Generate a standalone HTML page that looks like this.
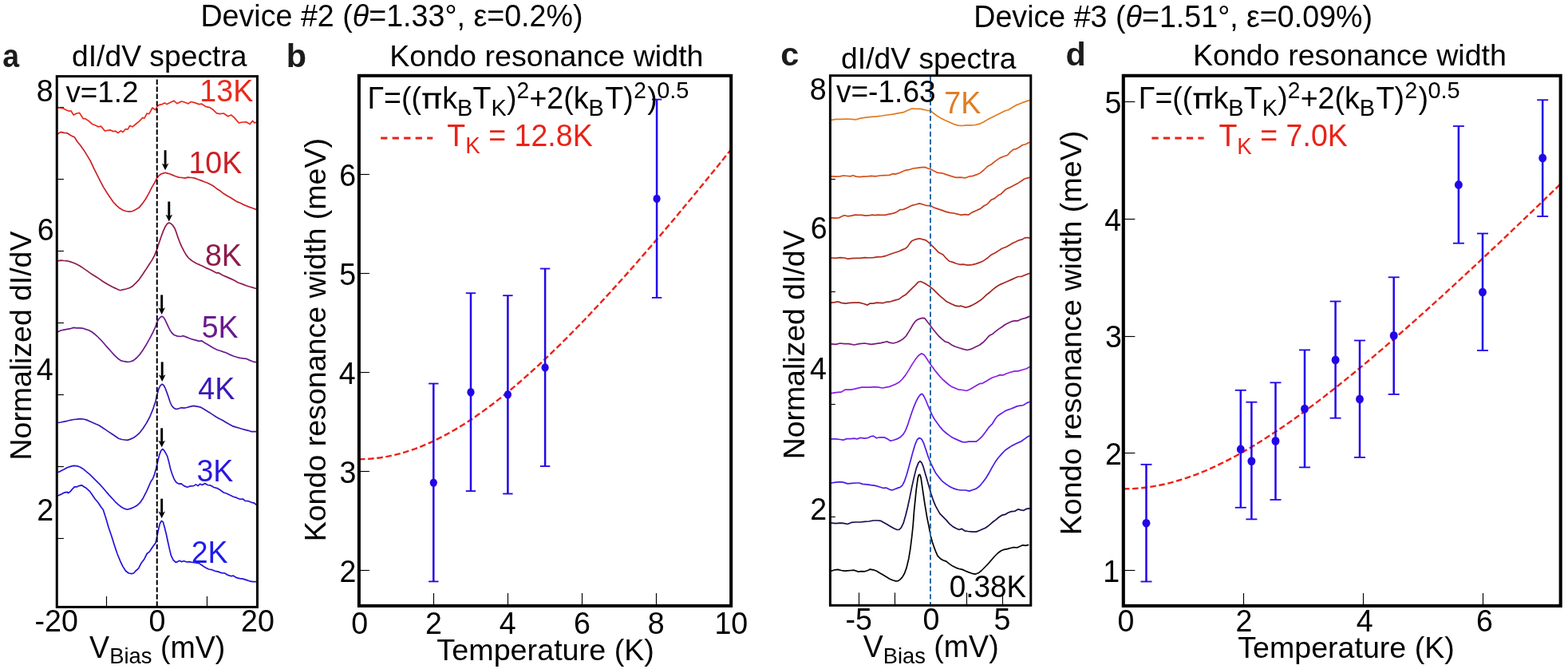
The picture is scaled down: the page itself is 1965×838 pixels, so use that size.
<!DOCTYPE html>
<html lang="en">
<head>
<meta charset="utf-8">
<title>Kondo resonance width: Device #2 and Device #3</title>
<style>
html,body{margin:0;padding:0;background:#fff;}
body{width:1965px;height:838px;overflow:hidden;}
svg{display:block;font-family:'Liberation Sans', Arial, Helvetica, sans-serif;}
svg text{white-space:pre;}
</style>
</head>
<body>
<svg width="1965" height="838" viewBox="0 0 1965 838">
<rect x="0" y="0" width="1965" height="838" fill="#fff"/>
<g id="ticks"><line x1="133.50" y1="760.40" x2="133.50" y2="747.00" stroke="#000" stroke-width="1.15"/>
<line x1="259.50" y1="760.40" x2="259.50" y2="747.00" stroke="#000" stroke-width="1.15"/>
<line x1="71.25" y1="134.50" x2="79.90" y2="134.50" stroke="#000" stroke-width="1.15"/>
<line x1="71.25" y1="224.50" x2="79.90" y2="224.50" stroke="#000" stroke-width="1.15"/>
<line x1="71.25" y1="314.50" x2="79.90" y2="314.50" stroke="#000" stroke-width="1.15"/>
<line x1="71.25" y1="404.50" x2="79.90" y2="404.50" stroke="#000" stroke-width="1.15"/>
<line x1="71.25" y1="494.50" x2="79.90" y2="494.50" stroke="#000" stroke-width="1.15"/>
<line x1="71.25" y1="584.50" x2="79.90" y2="584.50" stroke="#000" stroke-width="1.15"/>
<line x1="71.25" y1="674.50" x2="79.90" y2="674.50" stroke="#000" stroke-width="1.15"/>
<line x1="543.50" y1="758.90" x2="543.50" y2="743.00" stroke="#000" stroke-width="1.15"/>
<line x1="636.50" y1="758.90" x2="636.50" y2="743.00" stroke="#000" stroke-width="1.15"/>
<line x1="729.50" y1="758.90" x2="729.50" y2="743.00" stroke="#000" stroke-width="1.15"/>
<line x1="822.50" y1="758.90" x2="822.50" y2="743.00" stroke="#000" stroke-width="1.15"/>
<line x1="449.90" y1="714.50" x2="463.00" y2="714.50" stroke="#000" stroke-width="1.15"/>
<line x1="449.90" y1="590.50" x2="463.00" y2="590.50" stroke="#000" stroke-width="1.15"/>
<line x1="449.90" y1="466.50" x2="463.00" y2="466.50" stroke="#000" stroke-width="1.15"/>
<line x1="449.90" y1="342.50" x2="463.00" y2="342.50" stroke="#000" stroke-width="1.15"/>
<line x1="449.90" y1="218.50" x2="463.00" y2="218.50" stroke="#000" stroke-width="1.15"/>
<line x1="1076.50" y1="758.30" x2="1076.50" y2="742.40" stroke="#000" stroke-width="1.15"/>
<line x1="1121.50" y1="758.30" x2="1121.50" y2="742.40" stroke="#000" stroke-width="1.15"/>
<line x1="1211.50" y1="758.30" x2="1211.50" y2="742.40" stroke="#000" stroke-width="1.15"/>
<line x1="1256.50" y1="758.30" x2="1256.50" y2="742.40" stroke="#000" stroke-width="1.15"/>
<line x1="1040.40" y1="224.50" x2="1046.80" y2="224.50" stroke="#000" stroke-width="1.15"/>
<line x1="1040.40" y1="365.50" x2="1046.80" y2="365.50" stroke="#000" stroke-width="1.15"/>
<line x1="1040.40" y1="506.50" x2="1046.80" y2="506.50" stroke="#000" stroke-width="1.15"/>
<line x1="1040.40" y1="647.50" x2="1046.80" y2="647.50" stroke="#000" stroke-width="1.15"/>
<line x1="1558.50" y1="758.90" x2="1558.50" y2="743.00" stroke="#000" stroke-width="1.15"/>
<line x1="1708.50" y1="758.90" x2="1708.50" y2="743.00" stroke="#000" stroke-width="1.15"/>
<line x1="1858.50" y1="758.90" x2="1858.50" y2="743.00" stroke="#000" stroke-width="1.15"/>
<line x1="1407.80" y1="714.50" x2="1422.40" y2="714.50" stroke="#000" stroke-width="1.15"/>
<line x1="1407.80" y1="567.50" x2="1422.40" y2="567.50" stroke="#000" stroke-width="1.15"/>
<line x1="1407.80" y1="421.50" x2="1422.40" y2="421.50" stroke="#000" stroke-width="1.15"/>
<line x1="1407.80" y1="274.50" x2="1422.40" y2="274.50" stroke="#000" stroke-width="1.15"/>
<line x1="1407.80" y1="127.50" x2="1422.40" y2="127.50" stroke="#000" stroke-width="1.15"/></g>
<g id="curves" fill="none" stroke-linejoin="round" stroke-linecap="round"><polyline points="72.3,135.0 78.8,135.6 82.8,137.7 86.8,139.3 88.9,138.7 92.2,144.0 96.2,142.0 99.6,141.4 104.3,148.7 107.0,148.7 111.0,151.4 115.7,155.5 119.1,156.8 123.1,158.8 126.5,158.1 131.2,163.8 135.2,163.3 137.9,162.8 141.9,164.6 144.6,164.2 148.0,166.5 151.3,163.8 154.0,165.5 157.4,161.5 160.1,162.2 162.7,157.5 166.1,158.8 170.1,155.5 174.2,152.1 178.9,147.4 180.9,148.1 184.2,142.0 186.9,142.7 191.0,135.0 195.0,137.7 197.0,133.3 199.7,131.3 203.1,130.6 206.4,128.9 209.1,130.6 213.1,128.6 217.8,126.2 221.9,129.7 225.2,127.9 227.9,127.0 231.9,128.3 236.0,129.9 239.3,127.5 244.0,128.6 249.4,130.6 252.8,130.2 257.5,133.3 262.8,134.6 266.9,137.3 271.6,141.8 275.6,142.7 280.3,142.0 285.7,145.8 289.7,144.0 293.7,147.4 299.1,153.8 304.5,153.0 308.5,152.8 313.2,155.5 316.6,151.4 318.6,153.8 320.9,153.4" stroke="#ea2a1c" stroke-width="1.7"/>
<polyline points="72.3,167.8 76.1,165.4 80.1,166.4 84.2,166.7 88.9,169.7 93.6,172.1 96.9,177.5 100.9,182.2 105.6,188.9 109.7,195.6 113.7,202.3 117.7,211.1 121.8,219.1 125.8,227.2 129.8,234.6 133.9,241.3 137.9,247.3 141.9,253.0 146.0,257.4 150.0,260.8 154.0,263.2 158.0,264.5 162.1,265.1 166.1,264.5 170.1,262.4 174.2,260.1 178.2,255.4 182.2,249.7 186.3,242.6 190.3,234.6 193.6,229.2 196.3,223.8 199.0,220.2 201.7,218.0 204.4,217.1 207.1,216.2 209.8,217.1 212.5,217.8 215.8,219.1 219.8,220.7 223.9,222.1 227.9,222.5 231.9,223.1 235.3,222.1 240.0,222.5 244.0,223.1 248.1,224.8 252.1,226.1 256.1,227.8 260.2,229.2 264.2,231.2 268.2,233.6 272.2,236.8 276.3,239.3 280.3,242.6 284.3,244.9 288.4,247.3 292.4,249.7 296.4,252.4 300.5,254.0 304.5,256.1 308.5,257.8 312.5,259.4 316.6,260.8 320.9,262.4" stroke="#cc1f26" stroke-width="1.7"/>
<polyline points="72.3,326.8 76.1,326.1 80.1,326.5 84.2,326.8 88.2,327.9 92.2,329.2 96.2,331.1 100.3,333.3 104.3,335.9 108.3,338.6 112.4,341.6 116.4,344.3 120.4,346.7 124.5,349.4 128.5,352.3 132.5,354.7 136.5,357.0 140.6,359.3 144.6,361.1 148.0,362.8 150.7,363.7 154.0,362.8 158.0,362.0 162.1,360.7 166.1,358.4 170.1,354.7 174.2,350.3 178.2,344.5 182.2,338.6 186.3,332.2 190.3,326.1 193.6,320.1 196.3,313.4 199.0,305.3 201.7,297.2 204.4,289.9 207.1,283.8 209.8,280.0 211.8,279.1 213.8,279.8 216.5,282.2 219.2,286.5 221.2,291.9 223.2,297.9 225.2,303.3 227.9,309.3 230.6,314.7 233.3,319.4 236.0,322.8 238.7,325.2 242.7,328.1 246.7,330.2 250.7,331.9 254.8,333.8 258.8,335.9 262.8,337.5 266.9,339.6 270.9,341.8 273.6,341.6 277.6,344.0 281.6,345.9 285.7,347.6 289.7,349.4 293.7,351.3 297.8,353.7 300.5,354.7 304.5,356.1 308.5,357.7 312.5,359.0 316.6,360.1 320.9,361.5" stroke="#8e1a4e" stroke-width="1.7"/>
<polyline points="72.3,415.8 76.1,414.0 80.1,413.1 84.2,412.4 88.2,411.7 92.2,410.4 96.2,410.8 100.3,410.8 104.3,411.3 107.0,412.4 111.0,413.5 115.1,415.8 119.1,418.8 123.1,422.5 127.1,426.5 131.2,431.2 135.2,435.9 139.2,440.3 143.3,444.9 147.3,448.7 151.3,451.6 155.4,452.7 159.4,453.4 163.4,453.0 167.5,451.4 171.5,448.0 175.5,443.6 179.5,437.9 183.6,431.2 187.6,424.2 191.6,416.4 195.0,409.0 197.0,403.0 199.0,399.6 201.0,397.3 203.1,396.3 205.1,397.6 207.1,401.0 209.1,405.4 211.1,409.7 213.1,413.7 215.8,417.5 218.5,419.8 222.5,421.1 226.6,421.5 229.9,420.7 233.3,422.1 237.3,423.8 241.3,425.2 245.4,426.1 249.4,427.4 252.8,426.9 256.1,429.2 260.2,431.5 264.2,433.9 268.2,436.3 272.2,438.2 276.3,439.5 280.3,440.9 284.3,442.2 288.4,444.4 292.4,446.0 296.4,447.3 300.5,448.4 304.5,448.9 308.5,449.3 312.5,451.1 316.6,452.7 319.3,453.6 320.9,453.4" stroke="#6a1a8e" stroke-width="1.7"/>
<polyline points="72.3,529.5 76.1,529.0 80.1,528.2 84.2,527.3 88.2,526.3 92.2,525.5 96.2,525.2 100.3,524.6 104.3,525.0 108.3,525.9 112.4,527.7 116.4,529.5 120.4,531.3 124.5,533.0 128.5,535.7 132.5,538.4 136.5,541.1 140.6,543.8 144.6,546.5 148.6,549.2 152.7,550.5 156.7,551.0 159.4,551.4 163.4,550.1 167.5,548.3 171.5,545.4 175.5,541.6 179.5,536.3 183.6,529.9 187.6,522.5 191.6,512.9 195.0,502.4 197.0,493.7 199.0,486.9 201.0,482.9 203.1,481.3 205.1,482.5 207.1,486.3 209.1,491.6 211.1,497.3 213.1,503.5 215.1,508.0 217.8,511.1 220.5,512.5 223.9,511.8 227.2,510.7 230.6,511.1 234.0,510.5 238.0,509.4 242.7,508.4 246.7,509.1 250.7,509.8 254.8,512.1 258.8,514.5 262.8,516.9 266.9,519.6 270.9,522.3 274.9,524.6 279.0,526.6 283.0,529.0 287.0,531.3 291.1,533.6 295.1,534.9 299.1,536.0 303.1,537.3 307.2,538.4 311.2,539.3 315.2,540.7 320.9,540.7" stroke="#3a16b4" stroke-width="1.7"/>
<polyline points="72.3,591.7 76.1,590.1 80.1,588.1 84.2,585.8 88.2,584.4 92.2,583.4 96.2,583.6 100.3,585.0 104.3,587.4 108.3,590.8 112.4,594.1 116.4,598.1 120.4,602.2 124.5,606.2 128.5,610.5 132.5,615.3 136.5,619.9 140.6,624.3 144.6,628.8 148.6,632.4 152.7,635.5 156.7,637.4 159.4,638.2 163.4,637.1 167.5,635.5 171.5,633.3 175.5,629.7 179.5,623.7 183.6,615.6 186.3,609.6 188.9,603.5 191.6,599.5 193.6,594.1 195.7,586.7 197.7,578.0 199.7,569.9 201.7,564.6 203.7,562.5 205.7,564.3 207.8,567.9 209.8,571.9 211.8,579.3 213.8,588.1 215.8,594.1 218.5,600.8 221.2,604.6 224.5,606.2 227.2,605.9 230.6,608.6 234.6,610.2 238.7,608.9 242.7,608.6 245.4,606.9 248.1,608.6 250.7,606.2 253.4,607.5 256.8,605.5 260.2,607.5 264.2,608.2 268.2,610.5 272.2,611.6 276.3,614.0 280.3,617.0 284.3,618.3 288.4,620.3 292.4,622.3 296.4,623.4 300.5,625.3 304.5,625.0 307.2,627.4 311.2,627.7 315.2,629.3 318.6,630.1 320.9,632.0" stroke="#2a14d6" stroke-width="1.7"/>
<polyline points="72.3,621.0 76.1,619.4 80.1,617.2 84.2,616.3 85.5,617.6 88.2,615.6 90.9,612.3 93.6,609.6 96.2,610.0 98.9,608.6 102.3,607.8 105.6,610.0 108.3,611.6 112.4,615.3 116.4,621.0 119.1,625.0 123.1,629.7 127.1,635.7 129.2,638.3 132.7,649.0 136.1,660.7 139.8,671.5 143.4,683.0 147.0,693.8 150.7,702.8 154.1,709.9 157.6,715.3 161.3,718.0 164.9,718.6 167.5,718.0 170.1,715.0 173.5,712.1 176.9,705.6 180.9,700.2 184.2,693.5 187.6,690.8 191.0,685.5 195.0,680.1 196.3,674.7 198.4,664.0 200.4,655.9 202.4,652.5 204.4,653.9 206.4,661.3 208.4,669.3 210.4,678.7 212.5,688.1 214.5,696.2 217.2,701.6 220.5,704.5 222.5,703.6 225.2,702.3 227.2,703.6 230.6,702.7 234.0,704.0 237.3,703.6 241.3,704.5 245.4,704.9 249.4,705.6 253.4,708.3 257.5,711.0 261.5,713.0 265.5,713.7 269.6,715.3 273.6,716.1 277.6,717.7 281.6,718.0 285.7,720.4 289.7,721.7 292.4,721.1 296.4,723.7 300.5,724.7 304.5,725.1 308.5,726.4 312.5,727.8 316.6,728.7 320.9,728.7" stroke="#2212dc" stroke-width="1.7"/>
<polyline points="1041.8,150.4 1047.4,149.4 1054.2,149.4 1060.9,149.0 1067.6,149.4 1073.0,149.8 1078.3,148.1 1085.1,147.1 1091.8,146.3 1098.5,145.8 1105.2,145.0 1111.9,144.0 1118.6,143.1 1125.4,141.8 1132.1,140.7 1137.5,138.3 1142.8,136.0 1148.2,136.4 1153.6,136.4 1157.6,137.3 1161.6,138.3 1166.3,138.7 1169.7,141.8 1173.7,144.7 1179.1,148.1 1184.5,150.8 1189.8,153.0 1195.2,155.5 1200.6,157.1 1206.0,157.5 1211.3,156.8 1216.7,156.8 1222.1,156.5 1227.5,155.2 1232.8,152.8 1238.2,149.4 1243.6,146.7 1249.0,144.0 1254.3,141.4 1259.7,138.7 1263.7,137.7 1267.8,135.0 1273.1,131.9 1278.5,129.7 1283.9,127.6 1289.9,125.6" stroke="#e07a1f" stroke-width="1.7"/>
<polyline points="1041.8,220.8 1047.4,221.1 1052.8,220.8 1056.8,220.0 1062.2,220.5 1066.2,220.8 1068.9,219.7 1073.0,221.1 1077.0,221.7 1082.4,221.1 1087.7,220.8 1091.8,220.4 1097.1,220.8 1102.5,220.0 1107.9,219.7 1114.6,219.4 1118.6,217.7 1121.3,218.1 1126.7,216.8 1130.7,215.0 1134.8,213.3 1138.8,212.7 1144.2,211.0 1149.5,210.3 1154.9,209.6 1158.9,209.4 1163.0,211.0 1166.3,211.9 1169.7,213.7 1175.1,216.4 1180.4,216.8 1185.8,218.6 1191.2,220.4 1197.9,222.4 1203.3,222.1 1210.0,222.8 1215.4,220.8 1219.4,220.4 1224.8,218.4 1228.8,216.4 1232.8,213.0 1238.2,207.9 1242.2,206.0 1247.6,201.6 1253.0,197.9 1258.4,195.8 1262.4,194.5 1266.4,190.2 1270.5,186.8 1273.1,186.8 1277.2,184.5 1281.2,181.8 1285.2,180.7 1289.9,178.3" stroke="#d4501c" stroke-width="1.7"/>
<polyline points="1041.8,272.8 1046.1,273.2 1051.5,272.8 1055.5,270.8 1058.2,269.7 1062.2,270.8 1067.6,270.1 1071.6,269.2 1075.6,269.4 1079.7,269.4 1085.1,270.1 1090.4,269.7 1093.1,269.2 1097.1,269.7 1099.8,269.2 1103.9,269.4 1109.2,269.4 1114.6,268.1 1118.6,267.4 1122.7,266.1 1128.0,262.7 1132.1,262.4 1137.5,260.0 1142.8,257.3 1148.2,256.0 1152.2,254.9 1156.3,256.0 1160.3,257.3 1166.3,257.6 1169.7,259.7 1175.1,261.6 1180.4,263.4 1185.8,265.4 1191.2,266.7 1195.2,267.0 1200.6,268.3 1204.6,269.4 1208.7,268.7 1213.4,269.2 1218.1,266.1 1223.4,263.8 1228.8,261.4 1232.8,258.0 1236.9,256.0 1242.2,250.3 1246.3,248.6 1251.6,244.2 1254.3,243.2 1259.7,237.8 1262.4,236.1 1266.4,234.5 1271.8,231.5 1275.8,229.4 1279.9,226.7 1283.9,224.0 1289.9,222.4" stroke="#c23c1c" stroke-width="1.7"/>
<polyline points="1041.8,323.0 1047.4,323.3 1052.8,322.7 1058.2,323.0 1062.2,324.3 1067.6,323.7 1073.0,323.3 1078.3,323.3 1083.7,322.7 1089.1,323.0 1094.5,322.7 1099.8,321.9 1105.2,321.6 1110.6,320.3 1116.0,318.3 1121.3,316.5 1126.7,314.7 1130.7,312.9 1134.8,311.2 1137.5,308.9 1140.1,304.9 1142.8,301.8 1146.9,299.9 1152.2,298.8 1156.3,299.9 1160.3,300.8 1164.3,304.2 1168.4,308.2 1172.4,312.2 1176.4,316.3 1181.8,319.0 1185.8,323.7 1189.8,327.3 1193.9,328.4 1197.9,330.0 1202.6,331.3 1207.3,331.1 1212.7,332.1 1218.1,331.7 1223.4,330.4 1228.8,328.4 1232.8,326.4 1238.2,322.7 1242.2,319.2 1247.6,316.5 1251.6,313.9 1255.7,311.2 1261.1,309.3 1265.1,306.9 1269.1,304.5 1273.1,302.8 1277.2,300.8 1281.2,299.9 1283.9,298.1 1287.9,297.5 1289.9,298.1" stroke="#b02e1e" stroke-width="1.7"/>
<polyline points="1041.8,379.2 1046.1,378.7 1050.1,377.8 1054.2,379.4 1059.5,380.1 1064.9,379.4 1070.3,379.2 1077.0,379.2 1082.4,380.5 1087.1,382.1 1090.4,380.1 1094.5,380.1 1098.5,379.2 1102.5,379.4 1106.5,379.7 1110.6,378.3 1116.0,377.8 1121.3,376.1 1126.7,374.7 1130.7,371.6 1134.8,369.3 1138.8,365.3 1142.8,361.3 1146.9,357.3 1150.9,353.2 1153.6,352.5 1157.6,354.2 1161.6,356.6 1165.7,359.3 1169.7,362.6 1173.7,366.7 1177.8,370.7 1181.8,373.8 1185.8,377.4 1189.8,379.4 1193.9,381.4 1197.9,383.2 1201.9,383.7 1204.6,383.2 1210.0,385.1 1214.0,384.1 1218.1,382.4 1223.4,379.4 1228.8,376.1 1232.8,372.7 1236.9,368.7 1240.9,365.7 1244.9,362.2 1249.0,359.0 1253.0,356.6 1258.4,354.2 1262.4,352.5 1267.8,350.1 1271.8,348.3 1275.8,346.5 1279.9,346.5 1283.9,344.8 1289.9,342.5" stroke="#a02622" stroke-width="1.7"/>
<polyline points="1041.8,430.9 1047.4,431.4 1052.8,430.0 1058.2,430.7 1063.6,430.7 1070.3,432.0 1077.0,430.7 1083.7,430.0 1091.8,431.4 1098.5,430.4 1103.9,429.6 1107.9,428.7 1111.3,427.7 1114.6,429.1 1119.3,430.0 1124.0,428.7 1128.0,426.9 1132.1,424.2 1135.4,421.0 1138.8,415.6 1141.5,411.2 1144.2,406.5 1146.9,402.7 1149.5,400.5 1152.9,399.1 1156.3,398.4 1158.9,398.7 1161.6,402.2 1165.0,406.5 1168.4,411.2 1172.4,416.2 1176.4,421.0 1180.4,424.6 1184.5,428.0 1188.5,429.1 1192.5,432.0 1196.6,434.0 1201.9,435.8 1207.3,437.4 1212.0,438.5 1216.7,437.4 1222.1,434.7 1227.5,432.3 1231.5,429.3 1235.5,425.3 1239.6,420.6 1243.6,418.6 1247.6,415.2 1251.6,412.1 1255.7,409.5 1259.7,406.5 1263.7,404.5 1267.8,402.7 1271.8,401.8 1275.8,401.8 1279.9,399.8 1285.2,398.4 1289.9,396.4" stroke="#7a1a78" stroke-width="1.7"/>
<polyline points="1041.8,492.7 1046.1,491.8 1050.1,491.4 1054.2,491.1 1058.9,488.2 1062.2,488.2 1066.2,488.2 1070.3,487.4 1074.3,486.4 1079.7,485.1 1085.1,485.1 1090.4,485.1 1095.8,484.7 1101.2,485.1 1105.9,486.0 1110.6,485.1 1114.6,484.4 1118.6,482.8 1122.7,481.1 1126.7,478.8 1130.7,475.0 1134.8,469.9 1138.8,463.6 1142.8,456.9 1146.9,450.6 1150.9,445.5 1154.9,442.8 1158.3,444.8 1161.6,449.5 1165.0,454.9 1168.4,459.6 1172.4,464.9 1176.4,469.9 1180.4,474.3 1184.5,478.0 1188.5,481.5 1192.5,484.4 1196.6,486.0 1200.6,487.8 1206.0,488.5 1211.3,489.5 1215.4,487.8 1219.4,485.5 1223.4,483.1 1227.5,480.7 1231.5,480.1 1235.5,477.7 1239.6,475.3 1243.6,473.0 1249.0,471.3 1253.0,469.6 1257.0,469.9 1261.1,468.0 1266.4,466.3 1271.8,464.9 1275.8,464.9 1281.2,463.2 1286.6,461.8 1289.9,459.6" stroke="#8a20e4" stroke-width="1.7"/>
<polyline points="1041.8,549.9 1047.4,549.9 1052.8,550.5 1056.8,551.2 1060.9,549.6 1066.2,549.6 1070.3,549.2 1074.3,549.9 1078.3,548.3 1083.7,549.2 1087.7,548.5 1091.8,546.5 1094.5,546.1 1098.5,548.8 1102.5,547.8 1107.9,547.8 1111.9,549.6 1116.0,552.3 1120.0,551.2 1124.0,549.9 1128.0,547.8 1132.1,543.8 1134.8,539.1 1137.5,532.4 1140.1,524.3 1142.8,516.3 1145.5,508.9 1148.2,502.6 1150.9,497.5 1153.6,494.1 1155.6,493.4 1157.6,495.9 1160.3,501.5 1163.0,508.2 1165.7,514.3 1168.4,520.3 1171.0,525.0 1174.4,529.7 1177.8,534.4 1181.8,539.1 1185.8,542.5 1189.8,545.6 1193.9,548.3 1197.9,550.1 1201.9,551.9 1206.0,553.6 1210.0,553.9 1214.0,553.2 1218.1,553.2 1223.4,553.2 1227.5,549.9 1231.5,545.8 1235.5,540.5 1239.6,534.8 1243.6,530.8 1247.6,524.3 1250.3,521.0 1254.3,518.3 1258.4,515.6 1262.4,513.6 1266.4,512.2 1270.5,510.6 1274.5,508.9 1278.5,508.2 1282.5,507.5 1286.6,504.9 1289.9,503.5" stroke="#6a1cea" stroke-width="1.7"/>
<polyline points="1041.8,605.0 1047.4,604.1 1052.8,603.7 1056.8,604.1 1062.2,605.9 1067.6,605.4 1073.0,605.0 1077.0,605.0 1081.0,606.4 1086.4,606.8 1091.8,607.7 1097.1,608.4 1102.5,610.0 1106.5,611.3 1110.6,611.1 1114.6,613.1 1118.0,614.0 1121.3,612.7 1125.4,611.1 1128.0,610.4 1130.7,608.1 1133.4,603.0 1136.1,594.9 1138.8,585.5 1141.5,575.5 1144.2,565.4 1146.9,556.6 1149.5,550.5 1152.2,548.5 1154.9,549.9 1157.6,555.2 1160.3,563.3 1163.0,571.4 1165.7,578.7 1168.4,584.1 1169.7,586.9 1172.4,592.2 1176.4,597.6 1180.4,602.3 1184.5,605.7 1188.5,608.4 1192.5,610.8 1196.6,612.4 1200.6,613.5 1204.6,614.0 1210.0,614.0 1214.7,615.1 1219.4,613.5 1223.4,612.1 1227.5,609.0 1231.5,604.3 1235.5,599.0 1239.6,592.2 1243.6,584.9 1247.6,578.1 1251.6,572.8 1255.7,568.1 1259.7,564.0 1263.7,561.3 1267.8,558.6 1271.8,556.6 1275.8,554.6 1279.9,552.8 1283.9,549.9 1286.6,547.8 1289.9,546.1" stroke="#4a1ae4" stroke-width="1.7"/>
<polyline points="1041.8,655.1 1047.4,655.7 1052.8,655.1 1056.8,655.4 1062.2,656.5 1067.6,654.3 1073.0,654.0 1078.3,654.0 1083.7,653.4 1089.1,653.0 1094.5,652.0 1099.8,652.0 1103.9,652.4 1107.9,654.7 1111.9,657.0 1116.0,659.4 1120.0,661.8 1124.0,663.5 1126.7,663.5 1129.4,660.8 1132.1,655.4 1134.8,646.0 1137.5,635.2 1140.1,623.1 1142.8,609.7 1145.5,597.6 1148.2,586.9 1150.9,579.9 1152.9,577.7 1154.9,579.5 1156.9,584.2 1158.9,590.9 1161.6,600.3 1164.3,609.7 1167.0,619.1 1169.7,627.2 1172.4,633.6 1175.1,638.6 1177.8,643.3 1181.8,647.3 1185.8,651.4 1189.8,656.1 1193.9,659.4 1197.9,661.8 1201.9,663.5 1205.3,662.4 1208.7,664.8 1212.7,665.5 1218.1,666.1 1223.4,666.1 1227.5,664.5 1231.5,662.8 1235.5,661.0 1239.6,657.8 1243.6,654.3 1247.6,651.4 1251.6,648.0 1255.7,645.3 1259.7,644.4 1263.7,642.0 1267.8,640.6 1271.8,640.3 1275.8,637.9 1278.5,638.6 1282.5,639.5 1286.6,637.3 1289.9,636.8" stroke="#1c0a4a" stroke-width="1.7"/>
<polyline points="1041.8,715.2 1046.1,713.8 1050.1,713.4 1054.2,714.5 1058.2,715.2 1062.2,714.8 1066.2,714.5 1070.3,714.2 1075.6,716.1 1079.7,715.6 1083.7,715.8 1087.7,714.5 1090.4,713.1 1094.5,713.8 1098.5,715.2 1102.5,717.8 1106.5,720.1 1110.6,722.5 1114.6,725.0 1118.6,726.8 1122.7,727.9 1125.4,727.7 1128.0,725.9 1130.7,723.2 1133.4,718.5 1136.1,711.1 1138.8,699.7 1140.8,687.6 1142.8,671.5 1144.2,658.1 1145.5,640.6 1148.2,613.7 1150.2,599.0 1151.3,595.2 1152.2,594.4 1153.2,595.2 1154.2,599.0 1156.3,613.7 1158.9,631.2 1161.6,647.3 1164.3,660.7 1166.3,671.5 1168.4,678.9 1170.4,684.9 1172.4,690.3 1175.1,696.4 1178.4,699.7 1181.8,701.7 1185.8,703.1 1189.8,706.4 1193.9,709.1 1197.9,711.1 1201.9,712.5 1206.0,713.4 1210.0,715.2 1214.0,716.9 1218.1,718.3 1222.1,719.2 1226.1,717.8 1230.2,714.5 1234.2,710.5 1238.2,706.4 1242.2,701.7 1246.3,697.0 1250.3,693.0 1254.3,690.0 1258.4,688.3 1262.4,687.6 1266.4,686.5 1270.5,685.6 1274.5,686.0 1278.5,684.3 1281.2,682.9 1285.2,683.3 1288.6,682.6" stroke="#000" stroke-width="1.7"/></g>
<g id="data"><polyline points="449.9,575.2 453.8,575.1 457.7,575.0 461.6,574.8 465.4,574.5 469.3,574.1 473.2,573.7 477.1,573.2 481.0,572.6 484.9,571.9 488.8,571.1 492.6,570.3 496.5,569.4 500.4,568.4 504.3,567.3 508.2,566.2 512.1,564.9 516.0,563.6 519.8,562.3 523.7,560.8 527.6,559.3 531.5,557.7 535.4,556.0 539.3,554.3 543.2,552.5 547.0,550.6 550.9,548.7 554.8,546.7 558.7,544.6 562.6,542.5 566.5,540.3 570.4,538.1 574.2,535.7 578.1,533.4 582.0,530.9 585.9,528.4 589.8,525.9 593.7,523.3 597.6,520.6 601.4,517.9 605.3,515.1 609.2,512.3 613.1,509.4 617.0,506.5 620.9,503.5 624.8,500.4 628.6,497.4 632.5,494.3 636.4,491.1 640.3,487.9 644.2,484.6 648.1,481.3 652.0,478.0 655.8,474.6 659.7,471.2 663.6,467.7 667.5,464.2 671.4,460.7 675.3,457.1 679.2,453.5 683.0,449.8 686.9,446.1 690.8,442.4 694.7,438.7 698.6,434.9 702.5,431.1 706.4,427.2 710.3,423.3 714.1,419.4 718.0,415.5 721.9,411.5 725.8,407.5 729.7,403.5 733.6,399.5 737.5,395.4 741.3,391.3 745.2,387.2 749.1,383.0 753.0,378.8 756.9,374.6 760.8,370.4 764.7,366.2 768.5,361.9 772.4,357.6 776.3,353.3 780.2,349.0 784.1,344.6 788.0,340.3 791.9,335.9 795.7,331.5 799.6,327.0 803.5,322.6 807.4,318.1 811.3,313.6 815.2,309.1 819.1,304.6 822.9,300.1 826.8,295.6 830.7,291.0 834.6,286.4 838.5,281.8 842.4,277.2 846.3,272.6 850.1,267.9 854.0,263.3 857.9,258.6 861.8,253.9 865.7,249.3 869.6,244.5 873.5,239.8 877.3,235.1 881.2,230.4 885.1,225.6 889.0,220.8 892.9,216.1 896.8,211.3 900.7,206.5 904.5,201.7 908.4,196.8 912.3,192.0 916.2,187.2" fill="none" stroke="#ea2218" stroke-width="2.4" stroke-dasharray="7.6 3.6"/>
<line x1="543.30" y1="480.50" x2="543.30" y2="728.40" stroke="#2206e8" stroke-width="2.5"/>
<line x1="537.10" y1="480.50" x2="549.50" y2="480.50" stroke="#2206e8" stroke-width="1.8"/>
<line x1="537.10" y1="728.40" x2="549.50" y2="728.40" stroke="#2206e8" stroke-width="1.8"/>
<ellipse cx="543.3" cy="604.6" rx="4.6" ry="5.20" fill="#2206e8"/>
<line x1="590.00" y1="367.20" x2="590.00" y2="615.10" stroke="#2206e8" stroke-width="2.5"/>
<line x1="583.80" y1="367.20" x2="596.20" y2="367.20" stroke="#2206e8" stroke-width="1.8"/>
<line x1="583.80" y1="615.10" x2="596.20" y2="615.10" stroke="#2206e8" stroke-width="1.8"/>
<ellipse cx="590.0" cy="491.2" rx="4.6" ry="5.20" fill="#2206e8"/>
<line x1="636.40" y1="370.20" x2="636.40" y2="618.50" stroke="#2206e8" stroke-width="2.5"/>
<line x1="630.20" y1="370.20" x2="642.60" y2="370.20" stroke="#2206e8" stroke-width="1.8"/>
<line x1="630.20" y1="618.50" x2="642.60" y2="618.50" stroke="#2206e8" stroke-width="1.8"/>
<ellipse cx="636.4" cy="494.2" rx="4.6" ry="5.20" fill="#2206e8"/>
<line x1="683.10" y1="336.50" x2="683.10" y2="584.00" stroke="#2206e8" stroke-width="2.5"/>
<line x1="676.90" y1="336.50" x2="689.30" y2="336.50" stroke="#2206e8" stroke-width="1.8"/>
<line x1="676.90" y1="584.00" x2="689.30" y2="584.00" stroke="#2206e8" stroke-width="1.8"/>
<ellipse cx="683.1" cy="460.4" rx="4.6" ry="5.20" fill="#2206e8"/>
<line x1="823.10" y1="124.60" x2="823.10" y2="372.90" stroke="#2206e8" stroke-width="2.5"/>
<line x1="816.90" y1="124.60" x2="829.30" y2="124.60" stroke="#2206e8" stroke-width="1.8"/>
<line x1="816.90" y1="372.90" x2="829.30" y2="372.90" stroke="#2206e8" stroke-width="1.8"/>
<ellipse cx="823.1" cy="248.9" rx="4.6" ry="5.20" fill="#2206e8"/>
<polyline points="1407.8,612.4 1412.4,612.3 1416.9,612.2 1421.5,612.0 1426.1,611.6 1430.6,611.2 1435.2,610.7 1439.8,610.1 1444.3,609.4 1448.9,608.6 1453.5,607.7 1458.1,606.8 1462.6,605.7 1467.2,604.6 1471.8,603.3 1476.3,602.0 1480.9,600.6 1485.5,599.2 1490.0,597.6 1494.6,596.0 1499.2,594.3 1503.7,592.5 1508.3,590.6 1512.9,588.7 1517.4,586.7 1522.0,584.6 1526.6,582.4 1531.2,580.2 1535.7,578.0 1540.3,575.6 1544.9,573.2 1549.4,570.7 1554.0,568.2 1558.6,565.6 1563.1,563.0 1567.7,560.3 1572.3,557.6 1576.8,554.8 1581.4,551.9 1586.0,549.0 1590.5,546.1 1595.1,543.1 1599.7,540.1 1604.2,537.0 1608.8,533.9 1613.4,530.7 1618.0,527.5 1622.5,524.3 1627.1,521.0 1631.7,517.7 1636.2,514.3 1640.8,510.9 1645.4,507.5 1649.9,504.1 1654.5,500.6 1659.1,497.1 1663.6,493.5 1668.2,490.0 1672.8,486.4 1677.3,482.7 1681.9,479.1 1686.5,475.4 1691.1,471.7 1695.6,468.0 1700.2,464.2 1704.8,460.4 1709.3,456.6 1713.9,452.8 1718.5,449.0 1723.0,445.1 1727.6,441.2 1732.2,437.3 1736.7,433.4 1741.3,429.4 1745.9,425.5 1750.4,421.5 1755.0,417.5 1759.6,413.5 1764.1,409.5 1768.7,405.4 1773.3,401.4 1777.9,397.3 1782.4,393.2 1787.0,389.1 1791.6,385.0 1796.1,380.9 1800.7,376.7 1805.3,372.6 1809.8,368.4 1814.4,364.2 1819.0,360.0 1823.5,355.8 1828.1,351.6 1832.7,347.4 1837.2,343.2 1841.8,338.9 1846.4,334.7 1851.0,330.4 1855.5,326.1 1860.1,321.8 1864.7,317.5 1869.2,313.2 1873.8,308.9 1878.4,304.6 1882.9,300.3 1887.5,295.9 1892.1,291.6 1896.6,287.2 1901.2,282.9 1905.8,278.5 1910.3,274.1 1914.9,269.7 1919.5,265.4 1924.0,261.0 1928.6,256.6 1933.2,252.2 1937.8,247.7 1942.3,243.3 1946.9,238.9 1951.5,234.4 1956.0,230.0" fill="none" stroke="#ea2218" stroke-width="2.4" stroke-dasharray="7.6 3.6"/>
<line x1="1436.50" y1="581.80" x2="1436.50" y2="728.50" stroke="#2206e8" stroke-width="2.5"/>
<line x1="1429.50" y1="581.80" x2="1443.50" y2="581.80" stroke="#2206e8" stroke-width="1.8"/>
<line x1="1429.50" y1="728.50" x2="1443.50" y2="728.50" stroke="#2206e8" stroke-width="1.8"/>
<ellipse cx="1436.5" cy="655.3" rx="4.95" ry="5.40" fill="#2206e8"/>
<line x1="1554.80" y1="488.80" x2="1554.80" y2="635.80" stroke="#2206e8" stroke-width="2.5"/>
<line x1="1547.80" y1="488.80" x2="1561.80" y2="488.80" stroke="#2206e8" stroke-width="1.8"/>
<line x1="1547.80" y1="635.80" x2="1561.80" y2="635.80" stroke="#2206e8" stroke-width="1.8"/>
<ellipse cx="1554.8" cy="562.7" rx="4.95" ry="5.40" fill="#2206e8"/>
<line x1="1568.40" y1="503.70" x2="1568.40" y2="650.40" stroke="#2206e8" stroke-width="2.5"/>
<line x1="1561.40" y1="503.70" x2="1575.40" y2="503.70" stroke="#2206e8" stroke-width="1.8"/>
<line x1="1561.40" y1="650.40" x2="1575.40" y2="650.40" stroke="#2206e8" stroke-width="1.8"/>
<ellipse cx="1568.4" cy="577.6" rx="4.95" ry="5.40" fill="#2206e8"/>
<line x1="1598.50" y1="479.30" x2="1598.50" y2="626.00" stroke="#2206e8" stroke-width="2.5"/>
<line x1="1591.50" y1="479.30" x2="1605.50" y2="479.30" stroke="#2206e8" stroke-width="1.8"/>
<line x1="1591.50" y1="626.00" x2="1605.50" y2="626.00" stroke="#2206e8" stroke-width="1.8"/>
<ellipse cx="1598.5" cy="552.4" rx="4.95" ry="5.40" fill="#2206e8"/>
<line x1="1635.00" y1="438.40" x2="1635.00" y2="585.40" stroke="#2206e8" stroke-width="2.5"/>
<line x1="1628.00" y1="438.40" x2="1642.00" y2="438.40" stroke="#2206e8" stroke-width="1.8"/>
<line x1="1628.00" y1="585.40" x2="1642.00" y2="585.40" stroke="#2206e8" stroke-width="1.8"/>
<ellipse cx="1635.0" cy="512.1" rx="4.95" ry="5.40" fill="#2206e8"/>
<line x1="1673.60" y1="377.50" x2="1673.60" y2="523.70" stroke="#2206e8" stroke-width="2.5"/>
<line x1="1666.60" y1="377.50" x2="1680.60" y2="377.50" stroke="#2206e8" stroke-width="1.8"/>
<line x1="1666.60" y1="523.70" x2="1680.60" y2="523.70" stroke="#2206e8" stroke-width="1.8"/>
<ellipse cx="1673.6" cy="450.9" rx="4.95" ry="5.40" fill="#2206e8"/>
<line x1="1704.00" y1="426.50" x2="1704.00" y2="572.90" stroke="#2206e8" stroke-width="2.5"/>
<line x1="1697.00" y1="426.50" x2="1711.00" y2="426.50" stroke="#2206e8" stroke-width="1.8"/>
<line x1="1697.00" y1="572.90" x2="1711.00" y2="572.90" stroke="#2206e8" stroke-width="1.8"/>
<ellipse cx="1704.0" cy="500.0" rx="4.95" ry="5.40" fill="#2206e8"/>
<line x1="1746.70" y1="347.30" x2="1746.70" y2="493.90" stroke="#2206e8" stroke-width="2.5"/>
<line x1="1739.70" y1="347.30" x2="1753.70" y2="347.30" stroke="#2206e8" stroke-width="1.8"/>
<line x1="1739.70" y1="493.90" x2="1753.70" y2="493.90" stroke="#2206e8" stroke-width="1.8"/>
<ellipse cx="1746.7" cy="420.4" rx="4.95" ry="5.40" fill="#2206e8"/>
<line x1="1827.90" y1="158.00" x2="1827.90" y2="304.70" stroke="#2206e8" stroke-width="2.5"/>
<line x1="1820.90" y1="158.00" x2="1834.90" y2="158.00" stroke="#2206e8" stroke-width="1.8"/>
<line x1="1820.90" y1="304.70" x2="1834.90" y2="304.70" stroke="#2206e8" stroke-width="1.8"/>
<ellipse cx="1827.9" cy="231.5" rx="4.95" ry="5.40" fill="#2206e8"/>
<line x1="1858.00" y1="292.50" x2="1858.00" y2="439.00" stroke="#2206e8" stroke-width="2.5"/>
<line x1="1851.00" y1="292.50" x2="1865.00" y2="292.50" stroke="#2206e8" stroke-width="1.8"/>
<line x1="1851.00" y1="439.00" x2="1865.00" y2="439.00" stroke="#2206e8" stroke-width="1.8"/>
<ellipse cx="1858.0" cy="366.0" rx="4.95" ry="5.40" fill="#2206e8"/>
<line x1="1933.20" y1="125.20" x2="1933.20" y2="271.00" stroke="#2206e8" stroke-width="2.5"/>
<line x1="1926.20" y1="125.20" x2="1940.20" y2="125.20" stroke="#2206e8" stroke-width="1.8"/>
<line x1="1926.20" y1="271.00" x2="1940.20" y2="271.00" stroke="#2206e8" stroke-width="1.8"/>
<ellipse cx="1933.2" cy="198.0" rx="4.95" ry="5.40" fill="#2206e8"/></g>
<g id="axes"><line x1="196.75" y1="95.60" x2="196.75" y2="760.40" stroke="#000" stroke-width="2.0" stroke-dasharray="6.4 2.555" stroke-dashoffset="4.95"/>
<rect x="71.25" y="95.60" width="251.25" height="664.80" fill="none" stroke="#000" stroke-width="3"/>
<line x1="207.10" y1="188.20" x2="207.10" y2="209.20" stroke="#000" stroke-width="2.9"/>
<path d="M202.8 204.6 L207.1 213.2 L211.4 204.6 L207.1 206.9 Z" fill="#000"/>
<line x1="211.80" y1="252.50" x2="211.80" y2="273.40" stroke="#000" stroke-width="2.9"/>
<path d="M207.5 268.8 L211.8 277.4 L216.1 268.8 L211.8 271.1 Z" fill="#000"/>
<line x1="202.70" y1="369.40" x2="202.70" y2="389.90" stroke="#000" stroke-width="2.9"/>
<path d="M198.4 385.3 L202.7 393.9 L207.0 385.3 L202.7 387.6 Z" fill="#000"/>
<line x1="203.20" y1="453.40" x2="203.20" y2="473.90" stroke="#000" stroke-width="2.9"/>
<path d="M198.9 469.3 L203.2 477.9 L207.5 469.3 L203.2 471.6 Z" fill="#000"/>
<line x1="202.70" y1="536.30" x2="202.70" y2="556.30" stroke="#000" stroke-width="2.9"/>
<path d="M198.4 551.7 L202.7 560.3 L207.0 551.7 L202.7 554.0 Z" fill="#000"/>
<line x1="202.70" y1="624.70" x2="202.70" y2="645.20" stroke="#000" stroke-width="2.9"/>
<path d="M198.4 640.6 L202.7 649.2 L207.0 640.6 L202.7 642.9 Z" fill="#000"/>
<rect x="449.90" y="94.80" width="466.30" height="664.10" fill="none" stroke="#000" stroke-width="4"/>
<line x1="477.15" y1="172.90" x2="542.30" y2="172.90" stroke="#ea2218" stroke-width="3.0" stroke-dasharray="8.3 6.2"/>
<line x1="1166.00" y1="94.70" x2="1166.00" y2="758.30" stroke="#2b6aa9" stroke-width="2.0" stroke-dasharray="6.4 3.42" stroke-dashoffset="8.5"/>
<rect x="1040.40" y="94.70" width="251.40" height="663.60" fill="none" stroke="#000" stroke-width="3"/>
<rect x="1407.80" y="94.80" width="547.90" height="664.10" fill="none" stroke="#000" stroke-width="4.1"/>
<line x1="1443.40" y1="172.90" x2="1508.60" y2="172.90" stroke="#ea2218" stroke-width="3.0" stroke-dasharray="8.3 6.2"/></g>
<g id="labels"><text transform="translate(251.40 33.30) scale(1 1.015)" font-size="37.65" fill="#000">Device #2 (<tspan font-style="italic">θ</tspan>=1.33°, ε=0.2%)</text>
<text transform="translate(1220.23 33.60) scale(1 1.015)" font-size="37.64" fill="#000">Device #3 (<tspan font-style="italic">θ</tspan>=1.51°, ε=0.09%)</text>
<text transform="translate(3.35 83.90) scale(1 1.105)" font-size="37.40" font-weight="bold" fill="#1c1c1c">a</text>
<text transform="translate(358.63 83.70) scale(1 0.99)" font-size="41.40" font-weight="bold" fill="#1c1c1c">b</text>
<text transform="translate(978.27 82.30) scale(1 0.99)" font-size="41.40" font-weight="bold" fill="#1c1c1c">c</text>
<text transform="translate(1335.39 82.00) scale(1 0.99)" font-size="41.40" font-weight="bold" fill="#1c1c1c">d</text>
<text transform="translate(90.05 82.70) scale(1 0.987)" font-size="37.25" fill="#000">dI/dV spectra</text>
<text transform="translate(488.18 82.70) scale(1 0.987)" font-size="37.65" fill="#000">Kondo resonance width</text>
<text transform="translate(1054.11 85.60) scale(1 0.987)" font-size="37.25" fill="#000">dI/dV spectra</text>
<text transform="translate(1494.96 82.40) scale(1 0.987)" font-size="37.61" fill="#000">Kondo resonance width</text>
<text transform="translate(45.74 127.30) scale(1 1.035)" font-size="37.60" fill="#000">8</text>
<text transform="translate(46.71 300.90) scale(1 1.035)" font-size="37.60" fill="#000">6</text>
<text transform="translate(45.84 476.30) scale(1 1.035)" font-size="37.60" fill="#000">4</text>
<text transform="translate(46.21 651.80) scale(1 1.035)" font-size="37.60" fill="#000">2</text>
<text transform="translate(43.57 790.80) scale(1 1.035)" font-size="37.60" fill="#000">-20</text>
<text transform="translate(186.51 790.80) scale(1 1.035)" font-size="37.60" fill="#000">0</text>
<text transform="translate(302.01 790.80) scale(1 1.035)" font-size="37.60" fill="#000">20</text>
<text transform="translate(112.05 823.70) scale(1 1.015)" font-size="37.60" fill="#000">V<tspan font-size="73%" dy="7.6">Bias</tspan><tspan dy="-7.6"> (mV)</tspan></text>
<text transform="translate(39.30 576.38) rotate(-90) scale(1 0.987)" font-size="37.40" fill="#000">Normalized dI/dV</text>
<text transform="translate(82.43 127.70) scale(1 1.015)" font-size="36.83" fill="#000">v=1.2</text>
<text transform="translate(250.32 126.50) scale(1 1.035)" font-size="37.60" fill="#ea2a1c">13K</text>
<text transform="translate(236.39 217.20) scale(1 1.035)" font-size="37.60" fill="#cc1f26">10K</text>
<text transform="translate(256.94 333.00) scale(1 1.035)" font-size="37.60" fill="#8e1a4e">8K</text>
<text transform="translate(252.72 423.30) scale(1 1.035)" font-size="37.60" fill="#6a1a8e">5K</text>
<text transform="translate(248.36 500.20) scale(1 1.035)" font-size="37.60" fill="#3a18b8">4K</text>
<text transform="translate(246.40 603.30) scale(1 1.035)" font-size="37.60" fill="#2818de">3K</text>
<text transform="translate(239.65 705.00) scale(1 1.035)" font-size="37.60" fill="#1c1cea">2K</text>
<text transform="translate(446.50 728.60) scale(1 1.035)" font-size="37.60" text-anchor="end" fill="#000">2</text>
<text transform="translate(446.30 604.60) scale(1 1.035)" font-size="37.60" text-anchor="end" fill="#000">3</text>
<text transform="translate(445.66 480.60) scale(1 1.035)" font-size="37.60" text-anchor="end" fill="#000">4</text>
<text transform="translate(446.26 356.60) scale(1 1.035)" font-size="37.60" text-anchor="end" fill="#000">5</text>
<text transform="translate(446.26 232.60) scale(1 1.035)" font-size="37.60" text-anchor="end" fill="#000">6</text>
<text transform="translate(450.69 793.60) scale(1 1.035)" font-size="37.60" text-anchor="middle" fill="#000">0</text>
<text transform="translate(543.53 793.60) scale(1 1.035)" font-size="37.60" text-anchor="middle" fill="#000">2</text>
<text transform="translate(636.18 793.60) scale(1 1.035)" font-size="37.60" text-anchor="middle" fill="#000">4</text>
<text transform="translate(729.50 793.60) scale(1 1.035)" font-size="37.60" text-anchor="middle" fill="#000">6</text>
<text transform="translate(822.18 793.60) scale(1 1.035)" font-size="37.60" text-anchor="middle" fill="#000">8</text>
<text transform="translate(916.35 793.60) scale(1 1.035)" font-size="37.60" text-anchor="middle" fill="#000">10</text>
<text transform="translate(547.35 826.80) scale(1 0.987)" font-size="37.74" fill="#000">Temperature (K)</text>
<text transform="translate(408.00 678.37) rotate(-90) scale(1 0.987)" font-size="37.58" fill="#000">Kondo resonance width (meV)</text>
<text transform="translate(460.42 135.70) scale(1 1.035)" font-size="37.60" fill="#000">Γ=((<tspan font-family="'WenQuanYi Zen Hei', 'Liberation Sans', sans-serif" font-size="100%" dx="0.02em" textLength="0.66em" lengthAdjust="spacingAndGlyphs">π</tspan><tspan dx="0.015em">k</tspan><tspan font-size="77%" dy="8.8">B</tspan><tspan dy="-8.8" dx="0.15">T</tspan><tspan font-size="77%" dy="8.8" dx="0.1">K</tspan><tspan dy="-8.8" dx="0.15">)</tspan><tspan font-size="75%" dy="-11.8">2</tspan><tspan dy="11.8" dx="0.15">+2(k</tspan><tspan font-size="77%" dy="8.8">B</tspan><tspan dy="-8.8" dx="1.3">T)</tspan><tspan font-size="75%" dy="-11.8" dx="0.6">2</tspan><tspan dy="11.8" dx="1.2">)</tspan><tspan font-size="77%" dy="-11.8" dx="-0.5">0.5</tspan></text>
<text transform="translate(560.36 183.00) scale(1 1.035)" font-size="37.55" fill="#ea2218">T<tspan font-size="74%" dy="8.8">K</tspan><tspan dy="-8.8"> = 12.8K</tspan></text>
<text transform="translate(1014.66 125.20) scale(1 1.035)" font-size="37.60" fill="#000">8</text>
<text transform="translate(1015.71 299.30) scale(1 1.035)" font-size="37.60" fill="#000">6</text>
<text transform="translate(1014.89 474.80) scale(1 1.035)" font-size="37.60" fill="#000">4</text>
<text transform="translate(1015.17 650.70) scale(1 1.035)" font-size="37.60" fill="#000">2</text>
<text transform="translate(1059.38 789.40) scale(1 1.035)" font-size="37.60" fill="#000">-5</text>
<text transform="translate(1156.61 789.40) scale(1 1.035)" font-size="37.60" fill="#000">0</text>
<text transform="translate(1245.57 789.40) scale(1 1.035)" font-size="37.60" fill="#000">5</text>
<text transform="translate(1081.66 823.20) scale(1 1.015)" font-size="37.52" fill="#000">V<tspan font-size="73%" dy="7.6">Bias</tspan><tspan dy="-7.6"> (mV)</tspan></text>
<text transform="translate(1008.20 575.34) rotate(-90) scale(1 0.987)" font-size="37.43" fill="#000">Normalized dI/dV</text>
<text transform="translate(1047.93 127.70) scale(1 1.035)" font-size="37.09" fill="#000">v=-1.63</text>
<text transform="translate(1183.26 142.00) scale(1 1.035)" font-size="37.60" fill="#e07c22">7K</text>
<text transform="translate(1189.66 747.80) scale(1 1.035)" font-size="36.93" fill="#000">0.38K</text>
<text transform="translate(1403.18 728.90) scale(1 1.035)" font-size="37.60" text-anchor="end" fill="#000">1</text>
<text transform="translate(1406.00 582.10) scale(1 1.035)" font-size="37.60" text-anchor="end" fill="#000">2</text>
<text transform="translate(1405.81 435.30) scale(1 1.035)" font-size="37.60" text-anchor="end" fill="#000">3</text>
<text transform="translate(1405.21 288.50) scale(1 1.035)" font-size="37.60" text-anchor="end" fill="#000">4</text>
<text transform="translate(1405.53 141.70) scale(1 1.035)" font-size="37.60" text-anchor="end" fill="#000">5</text>
<text transform="translate(1411.05 791.00) scale(1 1.035)" font-size="37.60" text-anchor="middle" fill="#000">0</text>
<text transform="translate(1558.88 791.00) scale(1 1.035)" font-size="37.60" text-anchor="middle" fill="#000">2</text>
<text transform="translate(1710.11 791.00) scale(1 1.035)" font-size="37.60" text-anchor="middle" fill="#000">4</text>
<text transform="translate(1860.44 791.00) scale(1 1.035)" font-size="37.60" text-anchor="middle" fill="#000">6</text>
<text transform="translate(1551.33 823.70) scale(1 0.987)" font-size="37.58" fill="#000">Temperature (K)</text>
<text transform="translate(1354.90 670.33) rotate(-90) scale(1 0.987)" font-size="37.68" fill="#000">Kondo resonance width (meV)</text>
<text transform="translate(1426.68 135.50) scale(1 1.035)" font-size="37.60" fill="#000">Γ=((<tspan font-family="'WenQuanYi Zen Hei', 'Liberation Sans', sans-serif" font-size="100%" dx="0.02em" textLength="0.66em" lengthAdjust="spacingAndGlyphs">π</tspan><tspan dx="0.015em">k</tspan><tspan font-size="77%" dy="8.8">B</tspan><tspan dy="-8.8" dx="0.15">T</tspan><tspan font-size="77%" dy="8.8" dx="0.1">K</tspan><tspan dy="-8.8" dx="0.15">)</tspan><tspan font-size="75%" dy="-11.8">2</tspan><tspan dy="11.8" dx="0.15">+2(k</tspan><tspan font-size="77%" dy="8.8">B</tspan><tspan dy="-8.8" dx="1.3">T)</tspan><tspan font-size="75%" dy="-11.8" dx="0.6">2</tspan><tspan dy="11.8" dx="1.2">)</tspan><tspan font-size="77%" dy="-11.8" dx="-0.5">0.5</tspan></text>
<text transform="translate(1527.39 183.40) scale(1 1.035)" font-size="37.53" fill="#ea2218">T<tspan font-size="74%" dy="8.8">K</tspan><tspan dy="-8.8"> = 7.0K</tspan></text></g>
</svg>
</body>
</html>
